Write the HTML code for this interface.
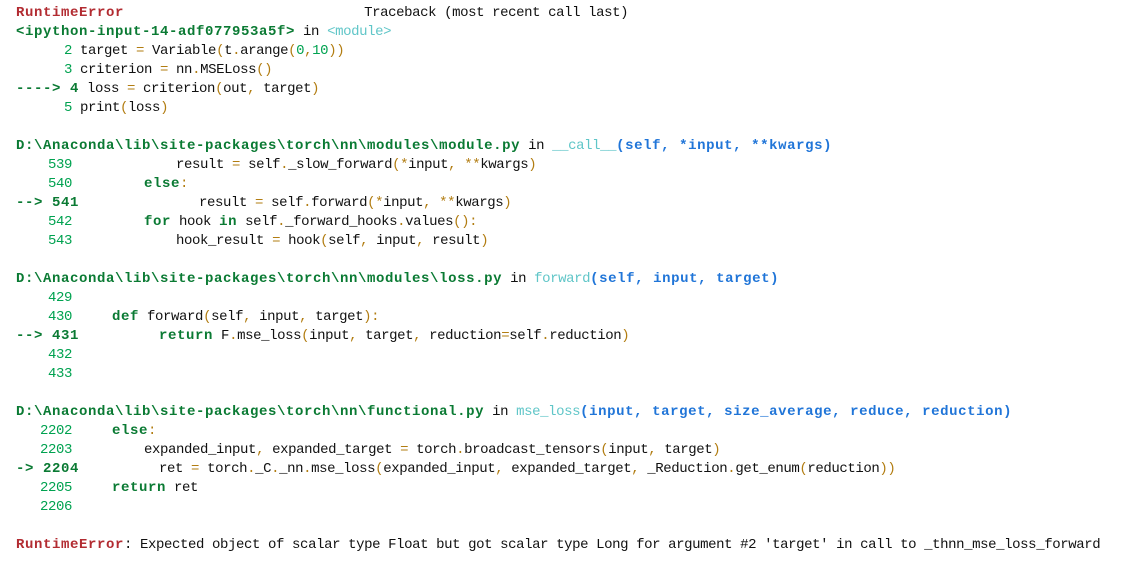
<!DOCTYPE html>
<html><head><meta charset="utf-8"><style>
html,body{margin:0;padding:0;background:#fff;width:1130px;height:566px;overflow:hidden}
pre{margin:0;padding:4px 0 0 16px;font-family:"Liberation Mono","Noto Sans CJK SC",monospace;font-size:14px;letter-spacing:-0.4px;line-height:19px;color:#111}
.r{color:#b22b31;font-weight:bold;letter-spacing:0.6px}
.g{color:#0a7a33;font-weight:bold;letter-spacing:0.6px}
.n{color:#00a250}
.y{color:#b27d12}
.c{color:#60c6c8}
.b{color:#2075d8;font-weight:bold;letter-spacing:0.6px}
</style></head><body><pre><span class="r">RuntimeError</span>                              Traceback (most recent call last)
<span class="g">&lt;ipython-input-14-adf077953a5f&gt;</span> in <span class="c">&lt;module&gt;</span>
<span class="n">      2</span> target <span class="y">=</span> Variable<span class="y">(</span>t<span class="y">.</span>arange<span class="y">(</span><span class="n">0</span><span class="y">,</span><span class="n">10</span><span class="y">))</span>
<span class="n">      3</span> criterion <span class="y">=</span> nn<span class="y">.</span>MSELoss<span class="y">()</span>
<span class="g">----&gt; 4</span> loss <span class="y">=</span> criterion<span class="y">(</span>out<span class="y">,</span> target<span class="y">)</span>
<span class="n">      5</span> print<span class="y">(</span>loss<span class="y">)</span>

<span class="g">D:\Anaconda\lib\site-packages\torch\nn\modules\module.py</span> in <span class="c">__call__</span><span class="b">(self, *input, **kwargs)</span>
<span class="n">    539</span>             result <span class="y">=</span> self<span class="y">.</span>_slow_forward<span class="y">(*</span>input<span class="y">,</span> <span class="y">**</span>kwargs<span class="y">)</span>
<span class="n">    540</span>         <span class="g">else</span><span class="y">:</span>
<span class="g">--&gt; 541</span>               result <span class="y">=</span> self<span class="y">.</span>forward<span class="y">(*</span>input<span class="y">,</span> <span class="y">**</span>kwargs<span class="y">)</span>
<span class="n">    542</span>         <span class="g">for</span> hook <span class="g">in</span> self<span class="y">.</span>_forward_hooks<span class="y">.</span>values<span class="y">():</span>
<span class="n">    543</span>             hook_result <span class="y">=</span> hook<span class="y">(</span>self<span class="y">,</span> input<span class="y">,</span> result<span class="y">)</span>

<span class="g">D:\Anaconda\lib\site-packages\torch\nn\modules\loss.py</span> in <span class="c">forward</span><span class="b">(self, input, target)</span>
<span class="n">    429</span>
<span class="n">    430</span>     <span class="g">def</span> forward<span class="y">(</span>self<span class="y">,</span> input<span class="y">,</span> target<span class="y">):</span>
<span class="g">--&gt; 431</span>          <span class="g">return</span> F<span class="y">.</span>mse_loss<span class="y">(</span>input<span class="y">,</span> target<span class="y">,</span> reduction<span class="y">=</span>self<span class="y">.</span>reduction<span class="y">)</span>
<span class="n">    432</span>
<span class="n">    433</span>

<span class="g">D:\Anaconda\lib\site-packages\torch\nn\functional.py</span> in <span class="c">mse_loss</span><span class="b">(input, target, size_average, reduce, reduction)</span>
<span class="n">   2202</span>     <span class="g">else</span><span class="y">:</span>
<span class="n">   2203</span>         expanded_input<span class="y">,</span> expanded_target <span class="y">=</span> torch<span class="y">.</span>broadcast_tensors<span class="y">(</span>input<span class="y">,</span> target<span class="y">)</span>
<span class="g">-&gt; 2204</span>          ret <span class="y">=</span> torch<span class="y">.</span>_C<span class="y">.</span>_nn<span class="y">.</span>mse_loss<span class="y">(</span>expanded_input<span class="y">,</span> expanded_target<span class="y">,</span> _Reduction<span class="y">.</span>get_enum<span class="y">(</span>reduction<span class="y">))</span>
<span class="n">   2205</span>     <span class="g">return</span> ret
<span class="n">   2206</span>

<span class="r">RuntimeError</span>: Expected object of scalar type Float but got scalar type Long for argument #2 'target' in call to _thnn_mse_loss_forward</pre></body></html>
